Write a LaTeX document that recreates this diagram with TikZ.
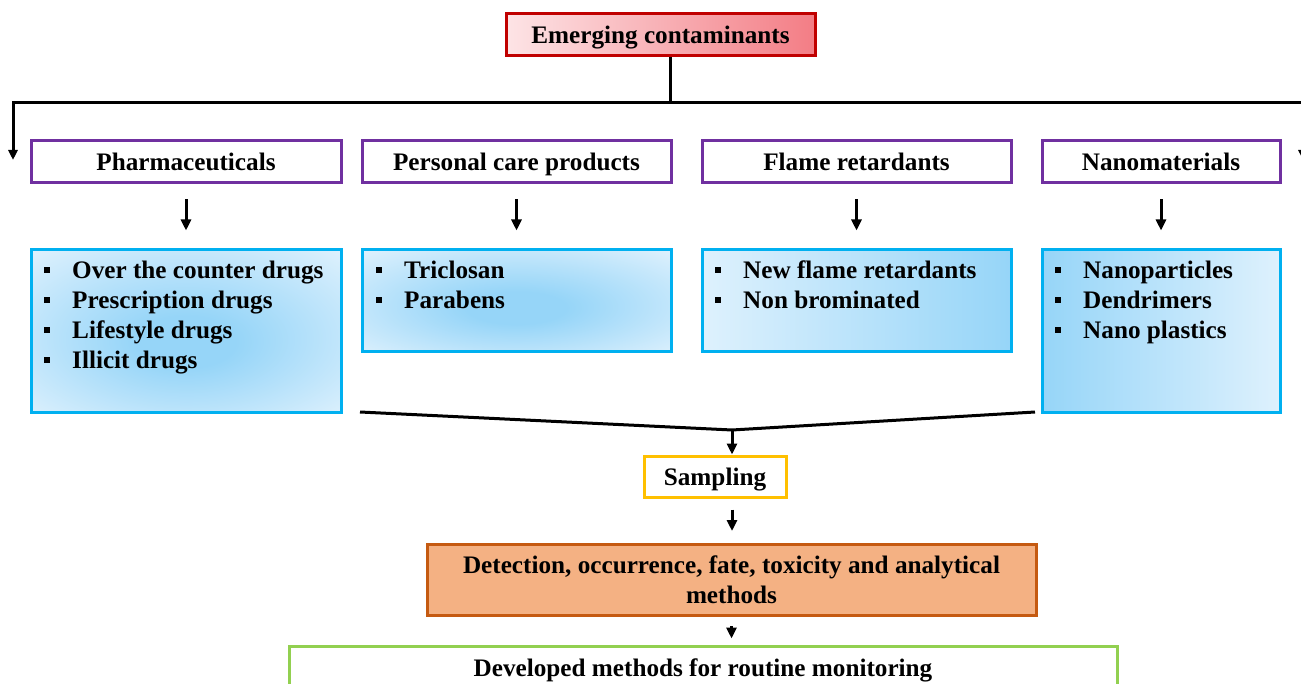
\documentclass[tikz,border=0pt]{standalone}
\usepackage{fontspec}
\setmainfont{Liberation Serif}
\usetikzlibrary{arrows.meta}

\definecolor{redline}{HTML}{C00000}
\definecolor{pinkA}{RGB}{253,228,230}
\definecolor{pinkB}{RGB}{243,125,133}
\definecolor{purpleline}{HTML}{7030A0}
\definecolor{blueline}{HTML}{00B0F0}
\definecolor{blueA}{RGB}{150,213,248}
\definecolor{blueB}{RGB}{222,241,253}
\definecolor{goldline}{HTML}{FFC000}
\definecolor{orangeline}{HTML}{C55A11}
\definecolor{orangefill}{HTML}{F4B183}
\definecolor{greenline}{HTML}{92D050}

\pgfdeclareradialshading{softblue}{\pgfpoint{0bp}{-4bp}}{color(0bp)=(blueA); color(8bp)=(blueA);
    color(36bp)=(blueB); color(50bp)=(blueB)}

\newcommand{\sqitem}[1]{\rule[0.22em]{6pt}{6pt}\hspace{22pt}#1}

\begin{document}
\begin{tikzpicture}[x=1pt, y=-1pt,
    font=\fontsize{25.2}{30}\selectfont\bfseries,
    label text/.style={text height=17pt, text depth=0pt},
    topbox/.style={label text, draw=redline, line width=3pt, left color=pinkA, right color=pinkB,
        minimum width=309pt, minimum height=42pt, inner sep=0pt},
    catbox/.style={label text, draw=purpleline, line width=3pt, fill=white, minimum height=42pt, inner sep=0pt},
    listbox/.style={draw=blueline, line width=3pt, inner sep=0pt},
    softfill/.style={shading=softblue},
    items/.style={anchor=north west, align=left, inner sep=0pt},
    sampbox/.style={label text, draw=goldline, line width=3pt, fill=white, minimum width=142pt, minimum height=41pt, inner sep=0pt},
    detbox/.style={draw=orangeline, line width=3pt, fill=orangefill, minimum width=609pt, minimum height=71pt,
        align=center, inner sep=0pt},
    devbox/.style={label text, draw=greenline, line width=3pt, fill=white, minimum width=828pt, minimum height=44pt, inner sep=0pt},
    conn/.style={line width=3pt},
    arr/.style={line width=3pt, -{Triangle[length=11pt,width=10pt]}}
]
\useasboundingbox (0,0) rectangle (1301,684);
\clip (0,0) rectangle (1301,684);

% Draw nodes
\node[topbox] (ec) at (660.5,35) {Emerging contaminants};

\node[catbox, minimum width=310pt] (pharm) at (186,162) {Pharmaceuticals};
\node[catbox, minimum width=309pt] (pcp) at (516.5,162) {Personal care products};
\node[catbox, minimum width=309pt] (flame) at (856.5,162) {Flame retardants};
\node[catbox, minimum width=238pt] (nano) at (1161,162) {Nanomaterials};

\node[listbox, softfill, minimum width=310pt, minimum height=162pt] (pharmlist) at (186,331) {};
\node[listbox, softfill, minimum width=309pt, minimum height=102pt] (pcplist) at (516.5,301) {};
\node[listbox, left color=blueB, right color=blueA, minimum width=309pt, minimum height=102pt] (flamelist) at (856.5,301) {};
\node[listbox, left color=blueA, right color=blueB, minimum width=238pt, minimum height=162pt] (nanolist) at (1161,331) {};

\node[items] (pharmitems) at (44,261) {\sqitem{Over the counter drugs}\\ \sqitem{Prescription drugs}\\
    \sqitem{Lifestyle drugs}\\ \sqitem{Illicit drugs}};
\node[items] (pcpitems) at (376,261) {\sqitem{Triclosan}\\ \sqitem{Parabens}};
\node[items] (flameitems) at (715,261) {\sqitem{New flame retardants}\\ \sqitem{Non brominated}};
\node[items] (nanoitems) at (1055,261) {\sqitem{Nanoparticles}\\ \sqitem{Dendrimers}\\ \sqitem{Nano plastics}};

\node[sampbox] (samp) at (715,476.5) {Sampling};
\node[detbox] (det) at (731.5,580) {Detection, occurrence, fate, toxicity and analytical\\ methods};
\node[devbox] (dev) at (703,668) {Developed methods for routine monitoring};

% Draw connections
\coordinate (split) at (670,103);
\coordinate (leftend) at (13,160);
\coordinate (rightend) at (1303,160);
\draw[conn] (ec.south -| split) -- (split);
\draw[arr, -{Triangle[length=10pt,width=9pt]}] (split) -| (leftend);
\draw[arr, -{Triangle[length=10pt,width=9pt]}] (split) -| (rightend);

\draw[arr, shorten <=15pt, shorten >=18pt] (pharm) -- (pharmlist);
\draw[arr, shorten <=15pt, shorten >=18pt] (pcp) -- (pcplist);
\draw[arr, shorten <=15pt, shorten >=18pt] (flame) -- (flamelist);
\draw[arr, shorten <=15pt, shorten >=18pt] (nano) -- (nanolist);

\coordinate (mleft) at (360,412);
\coordinate (mright) at (1035,412);
\coordinate (merge) at (732,430);
\draw[conn] (mleft) -- (merge) -- (mright);
\draw[arr] (merge) -- (merge |- samp.north);
\draw[arr, shorten <=11pt, shorten >=12pt] (samp.south -| merge) -- (det.north -| merge);
\draw[arr, shorten <=9pt, shorten >=6pt] (det.south) -- (det.south |- dev.north);
\end{tikzpicture}
\end{document}
